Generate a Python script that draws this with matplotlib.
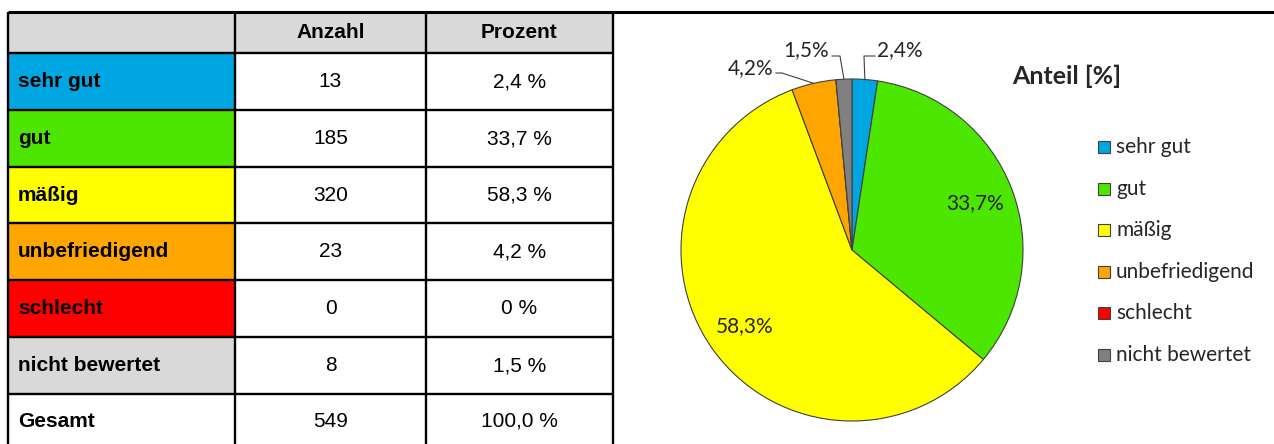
import matplotlib
matplotlib.use("Agg")
import matplotlib.pyplot as plt
from matplotlib.patches import Rectangle
import numpy as np

# ---- data ----
categories = ["sehr gut", "gut", "mäßig", "unbefriedigend", "schlecht", "nicht bewertet"]
counts = [13, 185, 320, 23, 0, 8]
percent = [2.4, 33.7, 58.3, 4.2, 0.0, 1.5]
percent_text = ["2,4 %", "33,7 %", "58,3 %", "4,2 %", "0 %", "1,5 %"]
total_label = "Gesamt"
total_count = 549
total_percent_text = "100,0 %"
headers = ["", "Anzahl", "Prozent"]
chart_title = "Anteil [%]"

cell_colors = ["#00A6E2", "#4CE600", "#FFFF00", "#FFA500", "#FF0000", "#D9D9D9"]
pie_colors = ["#00A6E2", "#4CE600", "#FFFF00", "#FFA500", "#FF0000", "#808080"]

W, H = 1274, 444
fig = plt.figure(figsize=(W / 100, H / 100), dpi=100)

# ---- table (pixel coordinates) ----
tax = fig.add_axes([0, 0, 1, 1])
tax.set_xlim(0, W)
tax.set_ylim(H, 0)
tax.axis("off")

col_x = [8, 235, 426, 613]
row_y = [12, 53, 110, 167, 223, 280, 337, 394, 450]
tfont = dict(family="Liberation Sans", fontsize=15)

# header fill
tax.add_patch(Rectangle((col_x[0], row_y[0]), col_x[3] - col_x[0], row_y[1] - row_y[0],
                        facecolor="#D9D9D9", edgecolor="none"))
for i, c in enumerate(cell_colors):
    tax.add_patch(Rectangle((col_x[0], row_y[i + 1]), col_x[1] - col_x[0], row_y[i + 2] - row_y[i + 1],
                            facecolor=c, edgecolor="none"))

# lines
lw = 1.7
tax.plot([col_x[0], W], [row_y[0], row_y[0]], color="black", lw=2.2, solid_capstyle="butt")
for y in row_y[1:-1]:
    tax.plot([col_x[0], col_x[3]], [y, y], color="black", lw=lw, solid_capstyle="butt")
for x in col_x:
    tax.plot([x, x], [row_y[0], H], color="black", lw=lw, solid_capstyle="butt")

def cy(i):
    return (row_y[i] + row_y[i + 1]) / 2

tax.text((col_x[1] + col_x[2]) / 2, cy(0), headers[1], ha="center", va="center", fontweight="bold", **tfont)
tax.text((col_x[2] + col_x[3]) / 2, cy(0), headers[2], ha="center", va="center", fontweight="bold", **tfont)
for i, (cat, n, p) in enumerate(zip(categories, counts, percent_text)):
    tax.text(col_x[0] + 10, cy(i + 1), cat, ha="left", va="center", fontweight="bold", **tfont)
    tax.text((col_x[1] + col_x[2]) / 2, cy(i + 1), str(n), ha="center", va="center", **tfont)
    tax.text((col_x[2] + col_x[3]) / 2, cy(i + 1), p, ha="center", va="center", **tfont)
gy = (row_y[7] + 448) / 2
tax.text(col_x[0] + 10, gy, total_label, ha="left", va="center", fontweight="bold", **tfont)
tax.text((col_x[1] + col_x[2]) / 2, gy, str(total_count), ha="center", va="center", **tfont)
tax.text((col_x[2] + col_x[3]) / 2, gy, total_percent_text, ha="center", va="center", **tfont)

# ---- pie ----
cx, cyp, R = 852, 250, 171
pax = fig.add_axes([(cx - R) / W, (H - cyp - R) / H, 2 * R / W, 2 * R / H])
wedges, _ = pax.pie(percent, colors=pie_colors, startangle=90, counterclock=False,
                    wedgeprops=dict(edgecolor="#404040", linewidth=0.8))
pax.set_xlim(-1, 1)
pax.set_ylim(-1, 1)
pax.set_aspect("equal")
pax.axis("off")

lab_font = dict(family="Lato", fontsize=15, color="#262626")

def fmt(v):
    return f"{v:.1f}".replace(".", ",") + "%"

def px2d(x, y):
    return ((x - cx) / R, (cyp - y) / R)

for i, w in enumerate(wedges):
    v = percent[i]
    if v == 0:
        continue
    mid = np.deg2rad((w.theta1 + w.theta2) / 2)
    if v > 10:
        r = 0.77
        pax.text(r * np.cos(mid), r * np.sin(mid), fmt(v), ha="center", va="center", **lab_font)

# outside labels with leader lines
def leader(i, elbow_px, end_px, text_px, ha):
    w = wedges[i]
    mid = np.deg2rad((w.theta1 + w.theta2) / 2)
    sx, sy = np.cos(mid), np.sin(mid)
    ex, ey = px2d(*elbow_px)
    tx, ty = px2d(*end_px)
    pax.plot([sx, ex, tx], [sy, ey, ty], color="#404040", lw=0.8, clip_on=False)
    lx, ly = px2d(*text_px)
    pax.text(lx, ly, fmt(percent[i]), ha=ha, va="center", clip_on=False, **lab_font)

leader(0, (864, 56), (875, 56), (877, 50), "left")
leader(5, (840, 56), (832, 56), (829, 50), "right")
leader(3, (782, 73), (776, 73), (773, 68), "right")

# ---- title & legend ----
tax.text(1067, 76, chart_title, ha="center", va="center", fontweight="bold",
         family="Lato", fontsize=18, color="#262626")
leg_y0, leg_dy = 147, 41.6
for i, (cat, c) in enumerate(zip(categories, pie_colors)):
    y = leg_y0 + i * leg_dy
    tax.add_patch(Rectangle((1098, y - 6), 12, 12, facecolor=c, edgecolor="#404040", lw=0.8))
    tax.text(1116, y, cat, ha="left", va="center", family="Lato", fontsize=15, color="#262626")

fig.savefig("out.png", dpi=100)
